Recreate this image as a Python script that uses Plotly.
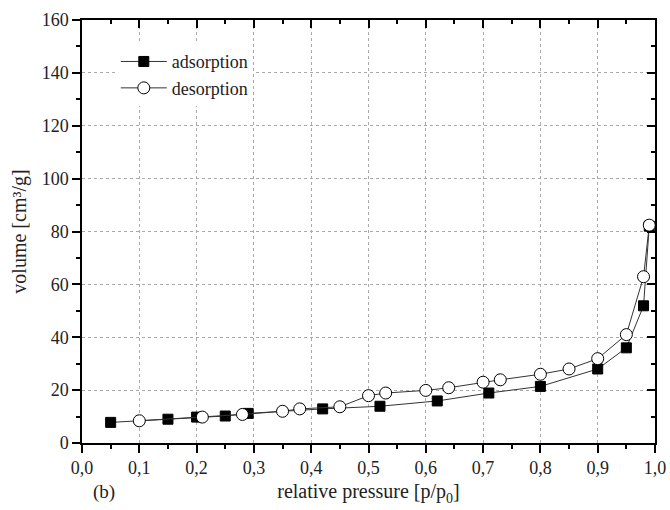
import plotly.graph_objects as go

ads_x = [0.05, 0.15, 0.20, 0.25, 0.29, 0.42, 0.52, 0.62, 0.71, 0.80, 0.90, 0.95, 0.98, 0.99]
ads_y = [7.8, 9.0, 9.8, 10.2, 11.2, 12.9, 13.9, 15.9, 18.9, 21.4, 28.0, 36.0, 51.9, 82.0]
des_x = [0.10, 0.21, 0.28, 0.35, 0.38, 0.45, 0.50, 0.53, 0.60, 0.64, 0.70, 0.73, 0.80, 0.85, 0.90, 0.95, 0.98, 0.99]
des_y = [8.4, 9.8, 10.8, 12.0, 12.9, 13.7, 17.9, 18.9, 19.9, 20.9, 23.0, 23.9, 26.0, 28.0, 31.9, 41.0, 62.9, 82.4]

x_ticks = [round(i * 0.1, 1) for i in range(11)]
x_labels = [f"{v:.1f}".replace(".", ",") for v in x_ticks]
y_ticks = list(range(0, 161, 20))

font = "Liberation Serif"
txt = "#222222"

fig = go.Figure()
fig.add_trace(go.Scatter(
    x=ads_x, y=ads_y, mode="lines+markers", name="adsorption",
    line=dict(color="#333333", width=1),
    marker=dict(symbol="square", size=10, color="black", line=dict(color="black", width=1)),
))
fig.add_trace(go.Scatter(
    x=des_x, y=des_y, mode="lines+markers", name="desorption",
    line=dict(color="#333333", width=1),
    marker=dict(symbol="circle", size=12, color="white", line=dict(color="black", width=1)),
))

axis_common = dict(
    showline=True, linecolor="black", linewidth=1.5,
    tickcolor="black", ticklen=8, tickwidth=1.5,
    tickfont=dict(family=font, size=18, color=txt),
    automargin=False,
)

fig.update_layout(
    width=670, height=510,
    margin=dict(l=82, r=15, t=20, b=67),
    paper_bgcolor="white", plot_bgcolor="white",
    font=dict(family=font, size=18, color=txt),
    showlegend=True,
    legend=dict(
        x=0.059, y=0.945, xanchor="left", yanchor="top",
        bgcolor="white", borderwidth=0,
        font=dict(family=font, size=18, color=txt),
        itemwidth=46, tracegroupgap=0,
    ),
    xaxis=dict(
        range=[0, 1], tickvals=x_ticks, ticktext=x_labels, ticks="outside",
        showgrid=True, gridcolor="#aaaaaa", griddash="dot", gridwidth=1,
        minor=dict(ticks="outside", dtick=0.05, ticklen=4, tickcolor="black", tickwidth=1.5, showgrid=False),
        zeroline=False,
        title=dict(text="relative pressure [p/p<sub>0</sub>]", font=dict(family=font, size=20, color=txt), standoff=7),
        **axis_common,
    ),
    yaxis=dict(
        range=[0, 160], tickvals=y_ticks, ticks="outside",
        showgrid=True, gridcolor="#aaaaaa", griddash="dot", gridwidth=1,
        minor=dict(ticks="outside", dtick=10, ticklen=4, tickcolor="black", tickwidth=1.5, showgrid=False),
        zeroline=False,
        title=dict(text="volume [cm³/g]", font=dict(family=font, size=20, color=txt), standoff=10),
        **axis_common,
    ),
    xaxis2=dict(
        range=[0, 1], tickvals=x_ticks, ticks="inside", showticklabels=False,
        overlaying="x", side="top", showgrid=False, zeroline=False,
        minor=dict(ticks="inside", dtick=0.05, ticklen=4, tickcolor="black", tickwidth=1.5),
        **axis_common,
    ),
    yaxis2=dict(
        range=[0, 160], tickvals=y_ticks, ticks="inside", showticklabels=False,
        overlaying="y", side="right", showgrid=False, zeroline=False,
        minor=dict(ticks="inside", dtick=10, ticklen=4, tickcolor="black", tickwidth=1.5),
        **axis_common,
    ),
)

# invisible trace to activate the mirrored axes
fig.add_trace(go.Scatter(x=[0], y=[0], xaxis="x2", yaxis="y2", mode="markers",
                         marker=dict(opacity=0), showlegend=False, hoverinfo="skip"))

fig.add_annotation(text="(b)", xref="paper", yref="paper", x=0.038, y=-0.116,
                   xanchor="center", yanchor="middle", showarrow=False,
                   font=dict(family=font, size=19, color=txt))

fig.write_html("out.html")
